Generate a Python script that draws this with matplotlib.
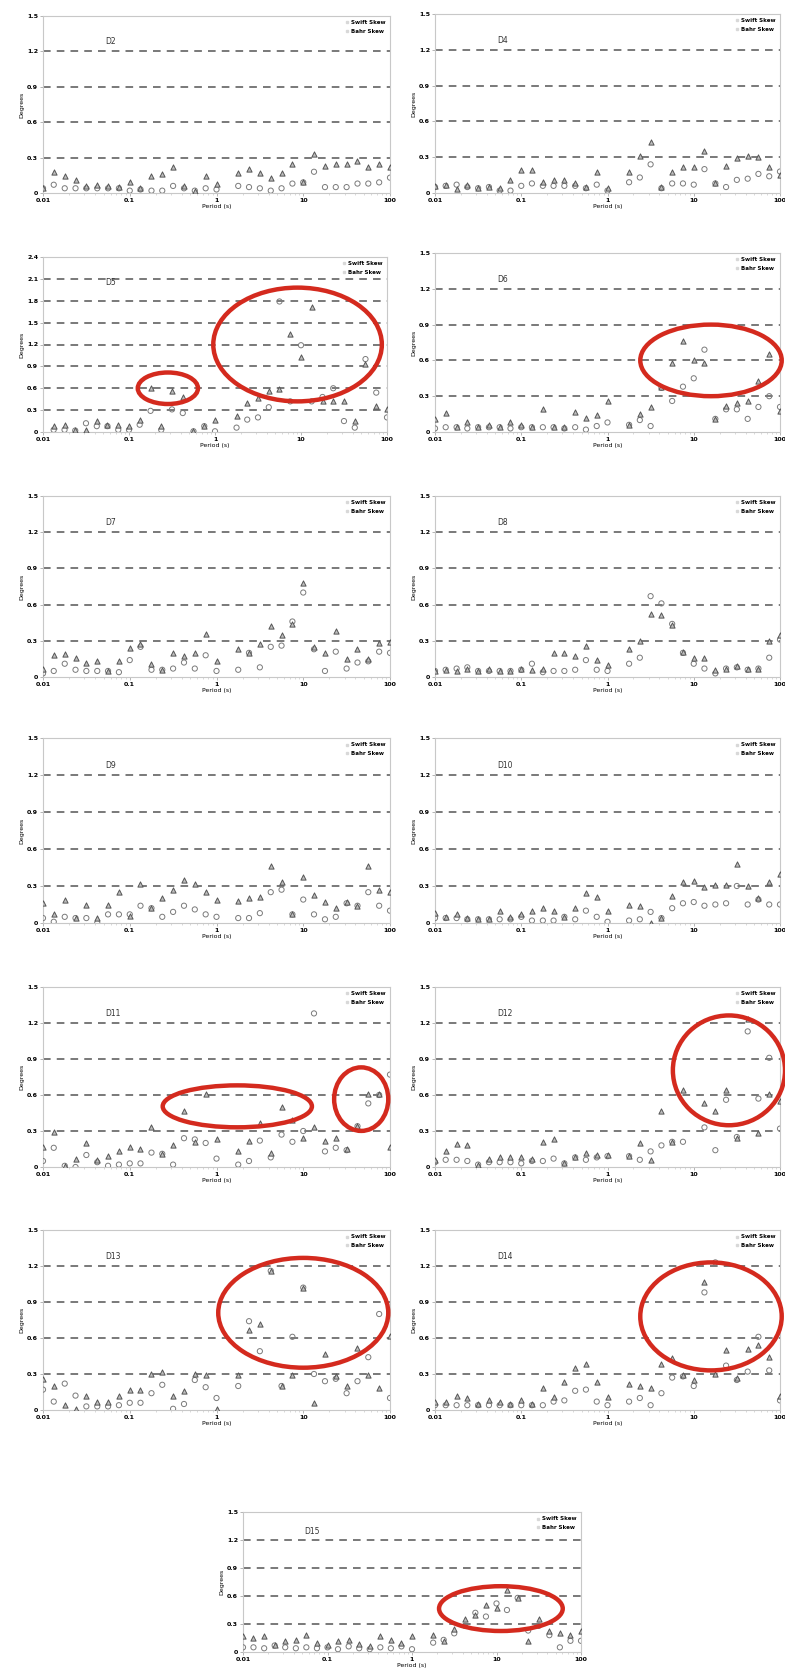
import numpy as np
import matplotlib.pyplot as plt
from matplotlib.patches import Ellipse
from matplotlib.lines import Line2D

nan = np.nan

# periods (s), the 1.33 s band is not used
periods = [0.01, 0.0133, 0.0178, 0.0237, 0.0316, 0.0422, 0.0562, 0.075, 0.1, 0.133,
           0.178, 0.237, 0.316, 0.422, 0.562, 0.75, 1.0, 1.78, 2.37, 3.16,
           4.22, 5.62, 7.5, 10, 13.3, 17.8, 23.7, 31.6, 42.2, 56.2, 75, 100]

bahr_d2 = [0.04, 0.18, 0.14, 0.11, 0.06, 0.07, 0.06, 0.05, 0.09, 0.04, 0.14, 0.16, 0.22, 0.06, 0.02, 0.14,
           0.08, 0.17, 0.20, 0.17, 0.13, 0.17, 0.25, 0.09, 0.33, 0.23, 0.25, 0.25, 0.27, 0.22, 0.25, 0.22]
swift_d2 = [0.04, 0.07, 0.04, 0.04, 0.04, 0.04, 0.04, 0.04, 0.02, 0.03, 0.02, 0.02, 0.06, 0.04, 0.02, 0.04,
            0.03, 0.06, 0.05, 0.04, 0.02, 0.04, 0.08, 0.09, 0.18, 0.05, 0.05, 0.05, 0.08, 0.08, 0.09, 0.13]

bahr_d4 = [0.06, 0.07, 0.03, 0.07, 0.04, 0.05, 0.04, 0.11, 0.19, 0.19, 0.09, 0.11, 0.11, 0.08, 0.05, 0.18,
           0.04, 0.18, 0.31, 0.43, 0.05, 0.18, 0.22, 0.22, 0.35, 0.08, 0.23, 0.29, 0.31, 0.30, 0.22, 0.15]
swift_d4 = [0.05, 0.06, 0.07, 0.05, 0.04, 0.05, 0.02, 0.02, 0.06, 0.08, 0.06, 0.06, 0.06, 0.06, 0.04, 0.07,
            0.02, 0.09, 0.13, 0.24, 0.04, 0.08, 0.08, 0.07, 0.20, 0.08, 0.05, 0.11, 0.12, 0.16, 0.14, 0.18]

bahr_d5 = [nan, 0.08, 0.09, 0.03, 0.03, 0.15, 0.09, 0.09, 0.08, 0.17, 0.60, 0.08, 0.56, 0.48, 0.01, 0.08,
           0.17, 0.22, 0.40, 0.47, 0.56, 0.59, 1.34, 1.03, 1.71, 0.42, 0.42, 0.43, 0.15, 0.93, 0.36, 0.32]
swift_d5 = [nan, 0.03, 0.03, 0.02, 0.12, 0.08, 0.08, 0.03, 0.03, 0.10, 0.29, 0.03, 0.31, 0.26, 0.01, 0.08,
            0.01, 0.06, 0.17, 0.20, 0.34, 1.79, 0.42, 1.19, 0.42, 0.48, 0.60, 0.15, 0.06, 1.00, 0.54, 0.20]

bahr_d6 = [0.11, 0.16, 0.04, 0.08, 0.04, 0.06, 0.04, 0.08, 0.06, 0.04, 0.19, 0.04, 0.04, 0.17, 0.12, 0.14,
           0.26, 0.06, 0.15, 0.21, 0.38, 0.58, 0.76, 0.60, 0.58, 0.11, 0.22, 0.24, 0.26, 0.43, 0.65, 0.18]
swift_d6 = [0.03, 0.04, 0.04, 0.03, 0.04, 0.04, 0.04, 0.03, 0.04, 0.04, 0.04, 0.04, 0.03, 0.04, 0.02, 0.05,
            0.08, 0.06, 0.10, 0.05, 0.37, 0.26, 0.38, 0.45, 0.69, 0.11, 0.19, 0.19, 0.11, 0.21, 0.30, 0.21]

bahr_d7 = [0.07, 0.18, 0.19, 0.16, 0.12, 0.13, 0.05, 0.13, 0.24, 0.27, 0.11, 0.06, 0.20, 0.17, 0.20, 0.36,
           0.13, 0.23, 0.20, 0.27, 0.42, 0.35, 0.44, 0.78, 0.25, 0.20, 0.38, 0.15, 0.23, 0.15, 0.28, 0.29]
swift_d7 = [0.03, 0.05, 0.11, 0.06, 0.05, 0.05, 0.05, 0.04, 0.14, 0.25, 0.06, 0.06, 0.07, 0.12, 0.07, 0.18,
            0.05, 0.06, 0.20, 0.08, 0.25, 0.26, 0.46, 0.70, 0.23, 0.05, 0.21, 0.07, 0.12, 0.13, 0.21, 0.20]

bahr_d8 = [0.05, 0.06, 0.05, 0.07, 0.05, 0.07, 0.05, 0.05, 0.07, 0.06, 0.07, 0.20, 0.20, 0.17, 0.26, 0.14,
           0.10, 0.23, 0.30, 0.52, 0.51, 0.43, 0.21, 0.16, 0.16, 0.06, 0.07, 0.09, 0.07, 0.07, 0.30, 0.35]
swift_d8 = [0.05, 0.06, 0.07, 0.08, 0.05, 0.05, 0.05, 0.05, 0.06, 0.11, 0.04, 0.05, 0.05, 0.06, 0.14, 0.06,
            0.05, 0.11, 0.16, 0.67, 0.61, 0.44, 0.20, 0.11, 0.07, 0.03, 0.07, 0.08, 0.06, 0.07, 0.16, 0.31]

bahr_d9 = [0.16, 0.07, 0.19, 0.04, 0.15, 0.04, 0.15, 0.25, 0.06, 0.32, 0.12, 0.20, 0.27, 0.35, 0.32, 0.25,
           0.19, 0.18, 0.20, 0.21, 0.46, 0.33, 0.07, 0.37, 0.23, 0.17, 0.12, 0.17, 0.14, 0.46, 0.27, 0.25]
swift_d9 = [0.04, 0.01, 0.05, 0.04, 0.04, 0.00, 0.07, 0.07, 0.07, 0.14, 0.12, 0.05, 0.09, 0.14, 0.11, 0.07,
            0.05, 0.04, 0.04, 0.08, 0.25, 0.27, 0.07, 0.19, 0.07, 0.03, 0.05, 0.16, 0.14, 0.25, 0.14, 0.10]

bahr_d10 = [0.08, 0.05, 0.07, 0.04, 0.03, 0.03, 0.10, 0.05, 0.07, 0.10, 0.12, 0.10, 0.05, 0.12, 0.24, 0.21,
            0.10, 0.15, 0.14, 0.00, 0.04, 0.22, 0.33, 0.34, 0.29, 0.31, 0.31, 0.48, 0.30, 0.20, 0.33, 0.40]
swift_d10 = [0.04, 0.04, 0.04, 0.03, 0.03, 0.03, 0.03, 0.03, 0.05, 0.02, 0.02, 0.02, 0.05, 0.03, 0.10, 0.05,
             0.01, 0.02, 0.03, 0.09, 0.04, 0.12, 0.16, 0.17, 0.14, 0.15, 0.16, 0.30, 0.15, 0.19, 0.15, 0.15]

bahr_d11 = [0.17, 0.29, 0.01, 0.07, 0.20, 0.06, 0.09, 0.13, 0.17, 0.15, 0.33, 0.11, 0.18, 0.47, 0.21, 0.61,
            0.23, 0.13, 0.22, 0.37, 0.12, 0.50, 0.39, 0.24, 0.33, 0.22, 0.24, 0.15, 0.34, 0.61, 0.61, 0.17]
swift_d11 = [0.05, 0.16, 0.01, 0.00, 0.10, 0.04, 0.01, 0.02, 0.03, 0.03, 0.12, 0.11, 0.02, 0.24, 0.23, 0.20,
             0.07, 0.02, 0.05, 0.22, 0.08, 0.27, 0.21, 0.30, 1.28, 0.13, 0.16, 0.14, 0.34, 0.53, 0.60, 0.77]

bahr_d12 = [0.06, 0.13, 0.19, 0.18, 0.02, 0.07, 0.08, 0.08, 0.08, 0.07, 0.21, 0.23, 0.03, 0.08, 0.12, 0.10,
            0.10, 0.09, 0.20, 0.06, 0.47, 0.21, 0.64, nan, 0.53, 0.47, 0.64, 0.24, 1.23, 0.28, 0.61, 0.55]
swift_d12 = [0.04, 0.06, 0.06, 0.05, 0.02, 0.04, 0.04, 0.04, 0.03, 0.05, 0.05, 0.07, 0.03, 0.08, 0.06, 0.08,
             0.09, 0.09, 0.06, 0.13, 0.18, 0.21, 0.21, nan, 0.33, 0.14, 0.56, 0.25, 1.13, 0.57, 0.91, 0.32]

bahr_d13 = [0.26, 0.20, 0.04, 0.01, 0.12, 0.07, 0.07, 0.12, 0.17, 0.17, 0.30, 0.32, 0.12, 0.16, 0.30, 0.29,
            0.01, 0.29, 0.67, 0.72, 1.16, 0.20, 0.29, 1.02, 0.06, 0.47, 0.28, 0.20, 0.52, 0.29, 0.18, 0.62]
swift_d13 = [0.17, 0.07, 0.22, 0.12, 0.03, 0.03, 0.03, 0.04, 0.06, 0.06, 0.14, 0.21, 0.01, 0.05, 0.25, 0.19,
             0.10, 0.20, 0.74, 0.49, 1.16, 0.20, 0.61, 1.02, 0.30, 0.24, 0.26, 0.14, 0.24, 0.44, 0.80, 0.10]

bahr_d14 = [0.07, 0.07, 0.12, 0.10, 0.05, 0.08, 0.07, 0.05, 0.08, 0.05, 0.18, 0.11, 0.23, 0.35, 0.38, 0.23,
            0.11, 0.22, 0.20, 0.18, 0.38, 0.43, 0.29, 0.25, 1.07, 0.30, 0.50, 0.27, 0.51, 0.54, 0.44, 0.12]
swift_d14 = [0.04, 0.04, 0.04, 0.04, 0.04, 0.04, 0.04, 0.04, 0.04, 0.04, 0.04, 0.07, 0.08, 0.16, 0.17, 0.07,
             0.04, 0.07, 0.10, 0.04, 0.14, 0.27, 0.28, 0.20, 0.98, 1.23, 0.37, 0.25, 0.32, 0.61, 0.33, 0.08]

bahr_d15 = [0.17, 0.15, 0.17, 0.08, 0.12, 0.13, 0.18, 0.10, 0.08, 0.12, 0.13, 0.09, 0.06, 0.17, 0.13, 0.10,
            0.17, 0.18, 0.12, 0.25, 0.35, 0.40, 0.50, 0.47, 0.66, 0.58, 0.12, 0.35, 0.22, 0.20, 0.18, 0.22]
swift_d15 = [0.05, 0.05, 0.04, 0.07, 0.05, 0.04, 0.05, 0.04, 0.05, 0.03, 0.06, 0.04, 0.03, 0.05, 0.04, 0.06,
             0.03, 0.10, 0.13, 0.20, 0.28, 0.42, 0.38, 0.52, 0.45, 0.58, 0.23, 0.28, 0.18, 0.05, 0.12, 0.12]

plt.rcParams['font.family'] = 'DejaVu Sans'
plt.rcParams['font.weight'] = 'bold'

W, H = 785, 1672
fig = plt.figure(figsize=(W / 100, H / 100), dpi=100)

# name, swift, bahr, pixel box (left, top, right, bottom), y max, ellipses (cx, cy, w, h in axes fraction)
panels = [
    ('D2', swift_d2, bahr_d2, (43, 16, 390, 193), 1.5, []),
    ('D4', swift_d4, bahr_d4, (435, 14, 780, 193), 1.5, []),
    ('D5', swift_d5, bahr_d5, (43, 257, 387, 432), 2.4,
     [(0.363, 0.25, 0.175, 0.18), (0.74, 0.5, 0.49, 0.65)]),
    ('D6', swift_d6, bahr_d6, (435, 253, 780, 432), 1.5, [(0.80, 0.40, 0.41, 0.40)]),
    ('D7', swift_d7, bahr_d7, (43, 496, 390, 677), 1.5, []),
    ('D8', swift_d8, bahr_d8, (435, 496, 780, 677), 1.5, []),
    ('D9', swift_d9, bahr_d9, (43, 738, 390, 923), 1.5, []),
    ('D10', swift_d10, bahr_d10, (435, 738, 780, 923), 1.5, []),
    ('D11', swift_d11, bahr_d11, (43, 987, 390, 1167), 1.5,
     [(0.56, 0.337, 0.43, 0.233), (0.917, 0.377, 0.156, 0.353)]),
    ('D12', swift_d12, bahr_d12, (435, 987, 780, 1167), 1.5, [(0.852, 0.537, 0.325, 0.61)]),
    ('D13', swift_d13, bahr_d13, (43, 1230, 390, 1410), 1.5, [(0.75, 0.54, 0.49, 0.61)]),
    ('D14', swift_d14, bahr_d14, (435, 1230, 780, 1410), 1.5, [(0.80, 0.52, 0.41, 0.60)]),
    ('D15', swift_d15, bahr_d15, (243, 1512, 581, 1652), 1.5, [(0.763, 0.31, 0.366, 0.32)]),
]

for name, swift, bahr, box, ymax, ellipses in panels:
    l, t, r, b = box
    ax = fig.add_axes([l / W, 1 - b / H, (r - l) / W, (b - t) / H])
    ax.set_xscale('log')
    ax.set_xlim(0.01, 100)
    ax.set_ylim(0, ymax)

    yt = np.arange(0, ymax + 0.01, 0.3)
    for v in yt[1:-1]:
        ax.axhline(v, color='#555555', lw=1.1, ls=(0, (5, 4)), zorder=1)

    ax.scatter(periods, swift, s=14, marker='o', facecolors='none',
               edgecolors='#7a7a7a', linewidths=0.7, zorder=3)
    ax.scatter(periods, bahr, s=14, marker='^', facecolors='#bdbdbd',
               edgecolors='#555555', linewidths=0.7, zorder=4)

    ax.set_yticks(yt)
    ax.set_yticklabels(['0' if v == 0 else f'{v:.1f}' for v in yt])
    ax.set_xticks([0.01, 0.1, 1, 10, 100])
    ax.set_xticklabels(['0.01', '0.1', '1', '10', '100'])
    ax.tick_params(axis='both', labelsize=4.5, length=2, width=0.5,
                   color='#999999', pad=1.5)
    ax.tick_params(axis='x', which='minor', length=1.5, width=0.4, color='#bbbbbb')
    for s in ax.spines.values():
        s.set_color('#c8c8c8')
        s.set_linewidth(0.8)

    ax.set_xlabel('Period (s)', fontsize=4.5, labelpad=1)
    ax.set_ylabel('Degrees', fontsize=4.5, labelpad=2)
    ax.text(0.18, 0.84, name, transform=ax.transAxes, fontsize=5.5,
            fontweight='normal', color='#333333')

    handles = [Line2D([], [], ls='none', marker='s', ms=2, color='#d8d8d8'),
               Line2D([], [], ls='none', marker='s', ms=2, color='#d8d8d8')]
    ax.legend(handles, ['Swift Skew', 'Bahr Skew'], loc='upper right',
              fontsize=4, frameon=False, handlelength=0.5, handletextpad=0.4,
              borderaxespad=0.4, labelspacing=0.6)

    for cx, cy, ew, eh in ellipses:
        ax.add_patch(Ellipse((cx, cy), ew, eh, transform=ax.transAxes,
                             fill=False, ec='#d42a1e', lw=3.2, zorder=5,
                             clip_on=False))

fig.savefig('out.png', dpi=100)
